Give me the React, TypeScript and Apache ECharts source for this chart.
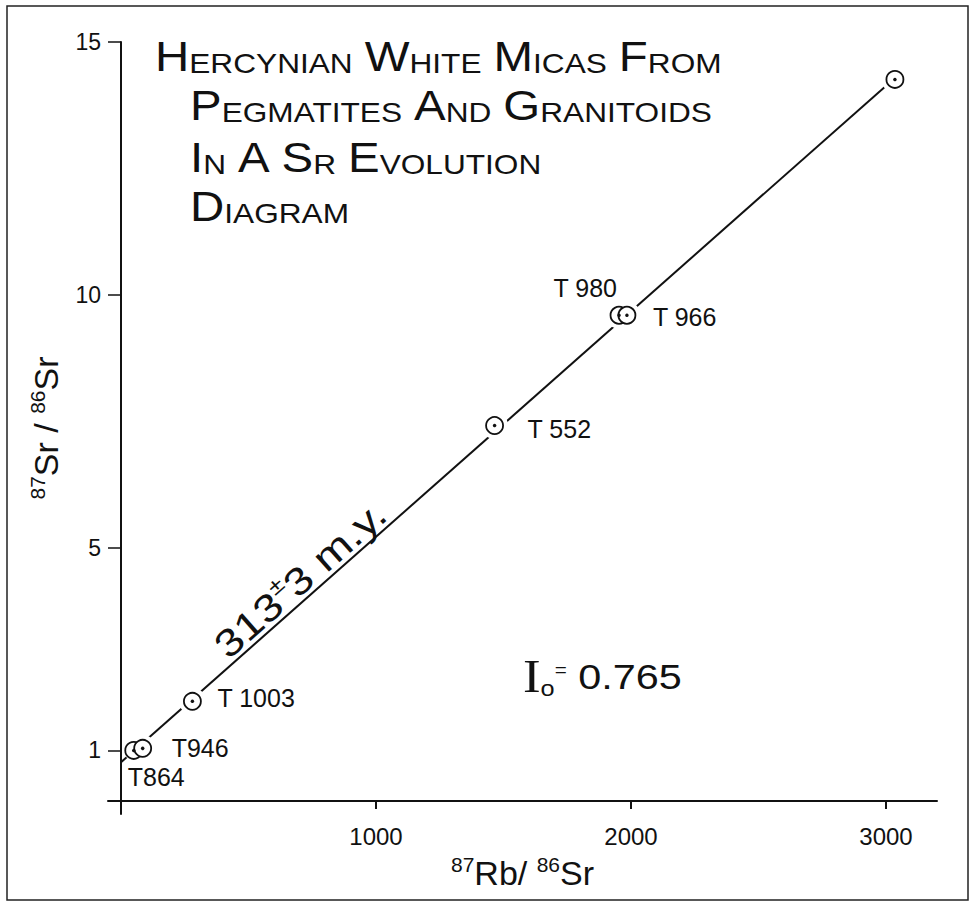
import React, { useEffect, useRef } from 'react';
import * as echarts from 'echarts';

// ---------- data ----------
const sampleIds = ['T864', 'T946', 'T1003', 'T552', 'T980', 'T966', 'top'];
const sampleLabels = ['T864', 'T946', 'T 1003', 'T 552', 'T 980', 'T 966', ''];
const rbSrRatios = [50, 85, 280, 1465, 1953, 1984, 3035];
const srSrRatios = [1.0, 1.04, 1.97, 7.42, 9.6, 9.6, 14.26];
const isochronRb = [0, 3035];
const isochronSr = [0.765, 14.29];
const xTickValues = [1000, 2000, 3000];
const yTickValues = [1, 5, 10, 15];
const titleLines = ['HERCYNIAN WHITE MICAS FROM', 'PEGMATITES AND GRANITOIDS', 'IN A SR EVOLUTION', 'DIAGRAM'];
const ageParts = ['313', '±', '3 m.y.'];
const initialRatio = '0.765';

// ---------- styles ----------
const SANS = "'Liberation Sans', Arial, sans-serif";
const SERIF = "'Liberation Serif', 'DejaVu Serif', serif";
const INK = '#111';

const labelPlacement: any[] = [
  { align: 'left', offset: [-6, 27] },
  { align: 'left', offset: [29, 0] },
  { align: 'left', offset: [25, -3] },
  { align: 'left', offset: [33, 3] },
  { align: 'right', offset: [-2, -27] },
  { align: 'left', offset: [26, 2] },
  { align: 'left', offset: [0, 0] },
];

function smallCaps(line: string) {
  return line
    .split(' ')
    .map((w) => `{b|${w[0]}}` + (w.length > 1 ? `{s|${w.slice(1)}}` : ''))
    .join('{sp| }');
}

const titleRich = {
  b: { fontFamily: SANS, fontSize: 42, lineHeight: 42, verticalAlign: 'bottom', fill: INK },
  s: { fontFamily: SANS, fontSize: 28, lineHeight: 28, verticalAlign: 'bottom', fill: INK },
  sp: { fontFamily: SANS, fontSize: 38, lineHeight: 42, verticalAlign: 'bottom', fill: INK },
};

const titleBaselines = [77, 126, 178, 227];
const titleLefts = [155, 190, 190, 190];

const nameRich = {
  sup: { fontFamily: SANS, fontSize: 21, lineHeight: 36, verticalAlign: 'top', color: INK },
  t: { fontFamily: SANS, fontSize: 34, lineHeight: 36, verticalAlign: 'bottom', color: INK },
};

export default function App() {
  const ref = useRef<HTMLDivElement>(null);

  useEffect(() => {
    if (!ref.current) return;
    const chart = echarts.init(ref.current, null, { renderer: 'svg' });

    const points = rbSrRatios.map((x, i) => [x, srSrRatios[i]]);
    const circleData = points.map((p, i) => ({
      value: p,
      name: sampleIds[i],
      label: {
        show: sampleLabels[i] !== '',
        formatter: sampleLabels[i],
        position: 'inside',
        align: labelPlacement[i].align,
        verticalAlign: 'middle',
        offset: labelPlacement[i].offset,
        fontFamily: SANS,
        fontSize: 25,
        color: INK,
      },
    }));

    const graphics: any[] = [
      {
        type: 'rect',
        shape: { x: 7, y: 6, width: 961, height: 894 },
        style: { fill: 'none', stroke: '#222', lineWidth: 1.5 },
        silent: true,
      },
    ];
    titleLines.forEach((line, i) => {
      graphics.push({
        type: 'text',
        x: titleLefts[i],
        y: titleBaselines[i],
        scaleX: 1.13,
        style: {
          text: smallCaps(line),
          rich: titleRich,
          align: 'left',
          verticalAlign: 'bottom',
          fill: INK,
        },
        silent: true,
      });
    });
    graphics.push({
      type: 'text',
      x: 523,
      y: 700,
      scaleX: 1.15,
      style: {
        text: `{I|I}{o|o}{eq|=}{v| ${initialRatio}}`,
        align: 'left',
        verticalAlign: 'bottom',
        rich: {
          I: { fontFamily: SERIF, fontSize: 46, lineHeight: 46, verticalAlign: 'bottom', fill: INK },
          o: { fontFamily: SANS, fontSize: 22, lineHeight: 22, verticalAlign: 'bottom', fill: INK },
          eq: { fontFamily: SANS, fontSize: 18, lineHeight: 18, verticalAlign: 'middle', padding: [0, 0, 14, 0], fill: INK },
          v: { fontFamily: SANS, fontSize: 36, lineHeight: 36, verticalAlign: 'bottom', padding: [0, 0, 6, 0], fill: INK },
        },
      },
      silent: true,
    });
    graphics.push({
      type: 'text',
      x: 299,
      y: 578,
      rotation: (41.5 * Math.PI) / 180,
      scaleX: 1.22,
      style: {
        text: `{n|${ageParts[0]}}{pm|${ageParts[1]}}{n|${ageParts[2]}}`,
        align: 'center',
        verticalAlign: 'middle',
        rich: {
          n: { fontFamily: SANS, fontSize: 38, lineHeight: 42, verticalAlign: 'bottom', fill: INK },
          pm: { fontFamily: SANS, fontSize: 22, lineHeight: 42, verticalAlign: 'top', fill: INK },
        },
      },
      silent: true,
    });

    const option: any = {
      animation: false,
      backgroundColor: '#fff',
      grid: { left: 108, right: 37, top: 42, bottom: 90, containLabel: false },
      xAxis: {
        type: 'value',
        min: -51,
        max: 3200,
        axisLine: { onZero: true, lineStyle: { color: INK, width: 2 } },
        axisTick: { show: true, customValues: xTickValues, length: 8, inside: false, lineStyle: { color: INK, width: 2 } },
        axisLabel: {
          customValues: xTickValues,
          formatter: (v: number) => String(v),
          color: INK,
          fontSize: 24,
          fontFamily: SANS,
          margin: 10,
        },
        splitLine: { show: false },
        name: '{sup|87}{t|Rb/ }{sup|86}{t|Sr}',
        nameLocation: 'middle',
        nameGap: 40,
        nameMoveOverlap: false,
        nameTextStyle: { color: INK, fontFamily: SANS, rich: nameRich },
      },
      yAxis: {
        type: 'value',
        min: -0.257,
        max: 15,
        axisLine: { onZero: true, lineStyle: { color: INK, width: 2 } },
        axisTick: { show: true, customValues: yTickValues, length: 13, inside: false, lineStyle: { color: INK, width: 1.5 } },
        axisLabel: {
          customValues: yTickValues,
          formatter: (v: number) => String(v),
          color: INK,
          fontSize: 23,
          fontFamily: SANS,
          margin: 7,
        },
        splitLine: { show: false },
        name: '{sup|87}{t|Sr / }{sup|86}{t|Sr}',
        nameLocation: 'middle',
        nameRotate: 90,
        nameGap: 45,
        nameMoveOverlap: false,
        nameTextStyle: { color: INK, fontFamily: SANS, rich: nameRich },
      },
      graphic: graphics,
      series: [
        {
          type: 'line',
          data: isochronRb.map((x, i) => [x, isochronSr[i]]),
          symbol: 'none',
          lineStyle: { color: INK, width: 2 },
          silent: true,
          z: 2,
        },
        {
          type: 'scatter',
          data: points,
          symbol: 'circle',
          symbolSize: (_v: any, p: any) => (p.dataIndex === 0 ? 20 : 27),
          itemStyle: { color: '#fff', opacity: 1 },
          silent: true,
          z: 3,
        },
        {
          type: 'scatter',
          data: circleData,
          symbol: 'circle',
          symbolSize: 17,
          itemStyle: { color: '#fff', borderColor: INK, borderWidth: 1.8, opacity: 1 },
          silent: true,
          z: 4,
        },
        {
          type: 'scatter',
          data: points,
          symbol: 'circle',
          symbolSize: 3.5,
          itemStyle: { color: INK, opacity: 1 },
          silent: true,
          z: 5,
        },
      ],
    };

    chart.setOption(option);
    return () => chart.dispose();
  }, []);

  return (
    <div
      ref={ref}
      style={{ position: 'absolute', left: 0, top: 0, width: 974, height: 904 }}
    />
  );
}
